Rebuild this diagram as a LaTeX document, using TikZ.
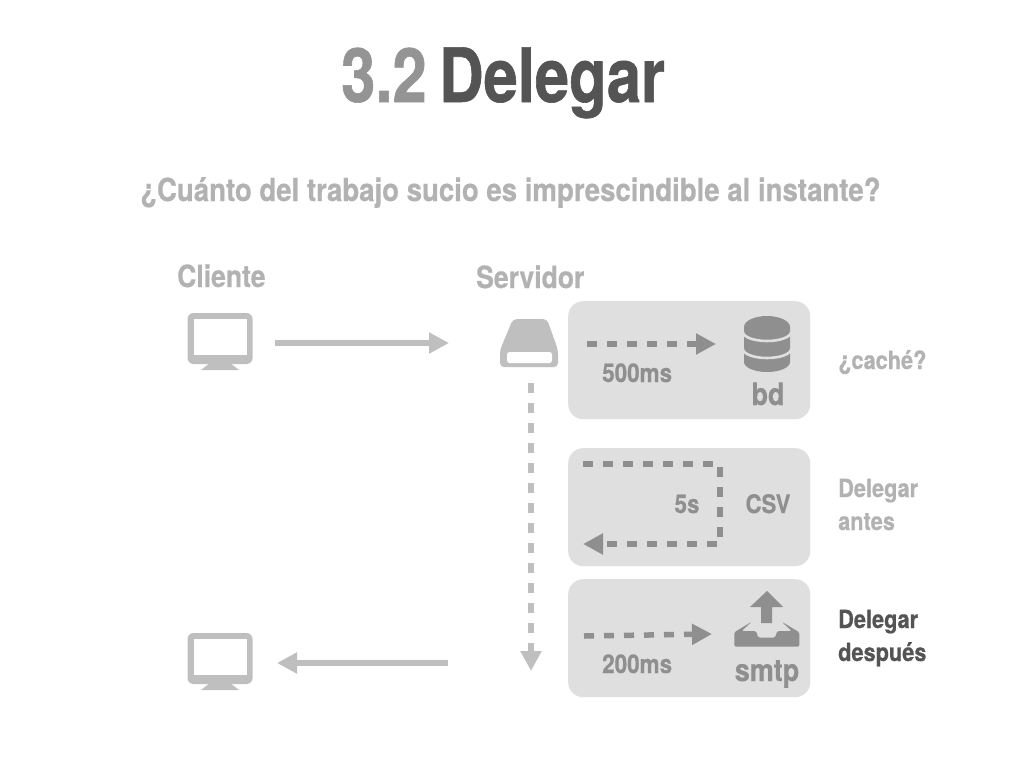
\documentclass[tikz,border=0pt]{standalone}
\usepackage{fontspec}
\setmainfont[FakeStretch=0.87,BoldFeatures={FakeBold=0.5}]{TeX Gyre Heros}
\newfontfamily\titlefont[FakeStretch=0.82,BoldFeatures={FakeBold=0.8}]{TeX Gyre Heros}
\usetikzlibrary{arrows.meta,calc}
\definecolor{lgrey}{gray}{0.75}
\definecolor{panel}{gray}{0.875}
\definecolor{dgrey}{gray}{0.56}
\definecolor{tgrey}{gray}{0.70}
\definecolor{titlea}{gray}{0.58}
\definecolor{titleb}{gray}{0.33}
\tikzset{
  x=1pt,y=-1pt,
  lbl/.style={inner sep=0pt,font=\bfseries\fontsize{#1}{#1}\selectfont},
  ttlbl/.style={inner sep=0pt,font=\titlefont\bfseries\fontsize{75}{75}\selectfont},
  panelbox/.style={fill=panel,rounded corners=15pt,draw=none,anchor=north west,inner sep=0pt,minimum width=242pt,minimum height=118pt},
  solidarrow/.style={draw=lgrey,line width=5.3pt,-{Triangle[length=20pt,width=20pt,fill=lgrey]}},
  dasharrow/.style={draw=dgrey,line width=5.5pt,dash pattern=on 10pt off 10pt,-{Triangle[length=20pt,width=20pt,fill=dgrey]}},
  vdash/.style={draw=lgrey,line width=5.5pt,dash pattern=on 10pt off 10pt,-{Triangle[length=20pt,width=20pt,fill=lgrey]}},
}
\newcommand{\monitorico}[2]{%
  \begin{scope}[shift={(#1,#2)}]
    \fill[lgrey,rounded corners=6pt] (-32.5,-30) rectangle (32.5,21);
    \fill[white] (-26.5,-24) rectangle (26.5,12);
    \fill[lgrey] (-10,20) -- (10,20) -- (19,27) -- (-19,27) -- cycle;
  \end{scope}}
\begin{document}
\begin{tikzpicture}
\useasboundingbox (0,0) rectangle (1024,768);
\fill[white] (0,0) rectangle (1024,768);
% title
\node[ttlbl,text=titlea,anchor=base west] (num) at (341,102) {3.2};
\node[ttlbl,text=titleb,anchor=base west] (ttl) at (439,102) {Delegar};
\node[lbl=31.7,text=tgrey,anchor=base west] (q) at (140,201) {¿Cuánto del trabajo sucio es imprescindible al instante?};
\node[lbl=30.5,text=tgrey,anchor=base west] (cl) at (177,287) {Cliente};
\node[lbl=30.5,text=tgrey,anchor=base west] (sv) at (476,288) {Servidor};
% panels
\node[panelbox] (p1) at (568,301) {};
\node[panelbox] (p2) at (568,448) {};
\node[panelbox] (p3) at (568,579) {};
% monitors
\monitorico{220}{343}
\monitorico{220}{663}
% server icon
\fill[lgrey,rounded corners=4pt] (513,319) -- (547,319) -- (558,350) -- (558,367) -- (500,367) -- (500,350) -- cycle;
\fill[white,rounded corners=2.5pt] (507,352) -- (552,352) -- (552,363) -- (507,363) -- cycle;
% anchors
\coordinate (c1a) at (275,343);
\coordinate (c1b) at (449,343);
\coordinate (c2a) at (448,663);
\coordinate (c2b) at (277,663);
\coordinate (va) at (531,383);
\coordinate (vb) at (531,671);
\draw[solidarrow] (c1a) -- (c1b);
\draw[solidarrow] (c2a) -- (c2b);
\draw[vdash] (va) -- (vb);
% panel 1
\coordinate (a1) at (587,344);
\coordinate (a2) at (716,344);
\draw[dasharrow] (a1) -- (a2);
\node[lbl=25.8,text=dgrey,anchor=base west] (t500) at (602,382) {500ms};
\begin{scope}[shift={(767,0)}]
  \fill[dgrey] (-23,327) arc[x radius=23,y radius=11,start angle=180,end angle=360] -- (23,362) arc[x radius=23,y radius=10,start angle=0,end angle=180] -- cycle;
  \draw[panel,line width=2.6pt] (-24,332) arc[x radius=24,y radius=9,start angle=180,end angle=0];
  \draw[panel,line width=2.6pt] (-24,349) arc[x radius=24,y radius=9,start angle=180,end angle=0];
\end{scope}
\node[lbl=31,text=dgrey,anchor=base] (bd) at (768,405) {bd};
% panel 2
\coordinate (b1) at (583,464);
\coordinate (b2) at (720,464);
\coordinate (b3) at (720,544);
\coordinate (b4) at (583,544);
\draw[dasharrow] (b1) -- (b2) -- (b3) -- (b4);
\node[lbl=25.8,text=dgrey,anchor=base] (t5) at (687,513) {5s};
\node[lbl=25.5,text=dgrey,anchor=base] (csv) at (768,513) {CSV};
% panel 3
\coordinate (d1) at (584,636);
\coordinate (d2) at (712,634);
\draw[dasharrow] (d1) -- (d2);
\node[lbl=25.8,text=dgrey,anchor=base west] (t200) at (602,673) {200ms};
\fill[dgrey] (761,623) -- (761,607) -- (750,607) -- (767,591) -- (783,607) -- (772,607) -- (772,623) -- cycle;
\fill[dgrey,rounded corners=1.5pt] (751.7,621.7) -- (734.3,632.3) -- (734.3,646.7) -- (799.3,646.7) -- (799.3,632.3) -- (781.7,621.7) -- (791.7,631) -- (777.3,631) -- (775,637.7) -- (758.3,637.7) -- (756,631) -- (741.7,631) -- cycle;
\node[lbl=31,text=dgrey,anchor=base] (smtp) at (767,681) {smtp};
% right labels
\node[lbl=25,text=tgrey,anchor=base west] (cache) at (838,369) {¿caché?};
\node[lbl=25,text=tgrey,anchor=base west] (da1) at (838,497) {Delegar};
\node[lbl=25,text=tgrey,anchor=base west] (da2) at (838,530) {antes};
\node[lbl=25,text=titleb,anchor=base west] (dd1) at (838,628) {Delegar};
\node[lbl=25,text=titleb,anchor=base west] (dd2) at (838,661) {después};
\end{tikzpicture}
\end{document}
